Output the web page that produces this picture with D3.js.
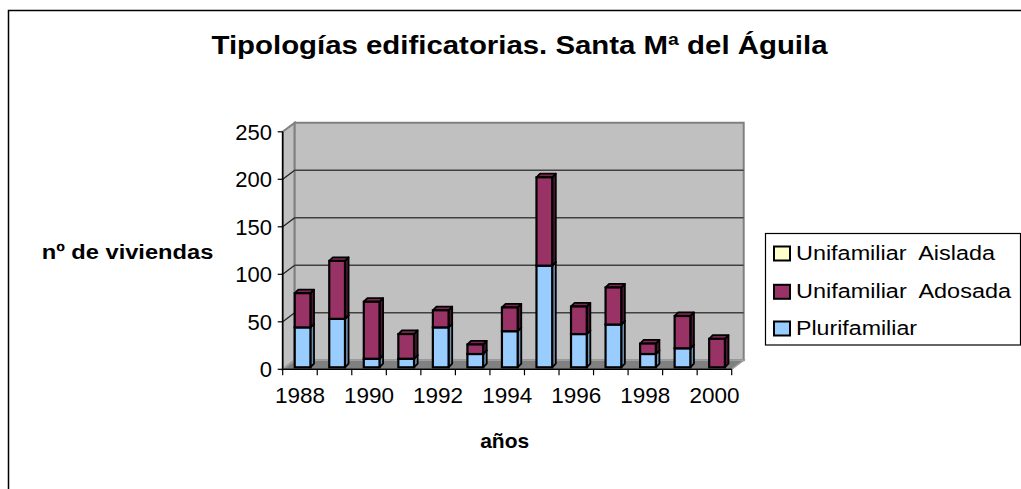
<!DOCTYPE html>
<html>
<head>
<meta charset="utf-8">
<script src="https://cdn.jsdelivr.net/npm/d3@7"></script>
<style>
  body { margin: 0; background: #fff; }
  text { font-family: "Liberation Sans", Arial, sans-serif; fill: #000; }
</style>
</head>
<body>
<div id="chart"></div>
<script>
var years = [1988, 1989, 1990, 1991, 1992, 1993, 1994, 1995, 1996, 1997, 1998, 1999, 2000];
var plurifamiliar = [42, 51, 9, 9, 42, 14, 38, 107, 35, 45, 14, 20, 0];
var unifamiliarAdosada = [36, 61, 60, 26, 18, 10, 25, 93, 29, 39, 11, 34, 30];
var unifamiliarAislada = [0, 0, 0, 0, 0, 0, 0, 0, 0, 0, 0, 0, 0];
var yTicks = [0, 50, 100, 150, 200, 250];
var xTickLabels = [1988, 1990, 1992, 1994, 1996, 1998, 2000];

var series = [
    { name: "Plurifamiliar", values: plurifamiliar, front: "#99CCFF", side: "#6F8FB0", top: "#7FA8D0" },
    { name: "Unifamiliar  Adosada", values: unifamiliarAdosada, front: "#993366", side: "#4A1830", top: "#7A2850" },
    { name: "Unifamiliar  Aislada", values: unifamiliarAislada, front: "#FFFFCC", side: "#B0B08C", top: "#D8D8AC" }
];
// legend shows series in reverse order, like the original
var legendItems = [
    { s: series[2], len: 199 },
    { s: series[1], len: 215 },
    { s: series[0], len: 121 }
];

var width = 1021, height = 489;
var svg = d3.select("#chart").append("svg")
    .attr("width", width)
    .attr("height", height);

svg.append("rect").attr("width", width).attr("height", height).attr("fill", "#fff");

// chart area border (runs off the right and bottom)
svg.append("rect")
    .attr("x", 8.5).attr("y", 10.5)
    .attr("width", 1100).attr("height", 600)
    .attr("fill", "none").attr("stroke", "#000").attr("stroke-width", 1.5);

var x0 = 282.7, x1 = 731.7;
var wall = { dx: 12, dy: -9 };
var barFront = { dx: 2.6, dy: -2 };
var barDepth = { dx: 3.6, dy: -3.6 };

var x = d3.scaleBand().domain(years).range([x0, x1]).padding(0);
var y = d3.scaleLinear().domain([0, 250]).range([369.3, 131.8]);
var barW = x.bandwidth() * 0.455;

var line = d3.line();

var walls = svg.append("g").attr("class", "walls");
// left side wall
walls.append("path")
    .attr("d", line([[x0, y(0)], [x0, y(250)], [x0 + wall.dx, y(250) + wall.dy], [x0 + wall.dx, y(0) + wall.dy]]) + "Z")
    .attr("fill", "#C0C0C0").attr("stroke", "#808080").attr("stroke-width", 2);
// back wall
walls.append("path")
    .attr("d", line([[x0 + wall.dx, y(0) + wall.dy], [x0 + wall.dx, y(250) + wall.dy], [x1 + wall.dx, y(250) + wall.dy], [x1 + wall.dx, y(0) + wall.dy]]) + "Z")
    .attr("fill", "#C0C0C0").attr("stroke", "#808080").attr("stroke-width", 2);
// floor
walls.append("path")
    .attr("d", line([[x0, y(0)], [x1, y(0)], [x1 + wall.dx, y(0) + wall.dy], [x0 + wall.dx, y(0) + wall.dy]]) + "Z")
    .attr("fill", "#808080").attr("stroke", "#A0A0A0").attr("stroke-width", 1.5);

// gridlines on back wall and left wall
var grid = svg.append("g").attr("class", "grid");
grid.selectAll("line.back")
    .data(yTicks.filter(function(d) { return d > 0 && d < 250; }))
    .enter().append("line")
    .attr("class", "back")
    .attr("x1", x0 + wall.dx).attr("x2", x1 + wall.dx)
    .attr("y1", function(d) { return y(d) + wall.dy; })
    .attr("y2", function(d) { return y(d) + wall.dy; })
    .attr("stroke", "#404040").attr("stroke-width", 1.5);
grid.selectAll("line.side")
    .data(yTicks.filter(function(d) { return d > 0 && d < 250; }))
    .enter().append("line")
    .attr("class", "side")
    .attr("x1", x0).attr("x2", x0 + wall.dx)
    .attr("y1", function(d) { return y(d); })
    .attr("y2", function(d) { return y(d) + wall.dy; })
    .attr("stroke", "#202020").attr("stroke-width", 1.2);

// axes
var axes = svg.append("g").attr("class", "axes");
axes.append("line")
    .attr("x1", x0).attr("x2", x0).attr("y1", y(0)).attr("y2", y(250))
    .attr("stroke", "#000").attr("stroke-width", 1.5);
axes.selectAll("line.ytick")
    .data(yTicks).enter().append("line")
    .attr("class", "ytick")
    .attr("x1", x0 - 5).attr("x2", x0)
    .attr("y1", function(d) { return y(d); })
    .attr("y2", function(d) { return y(d); })
    .attr("stroke", "#000").attr("stroke-width", 1.2);
axes.append("line")
    .attr("x1", x0).attr("x2", x1).attr("y1", y(0)).attr("y2", y(0))
    .attr("stroke", "#000").attr("stroke-width", 1.5);
axes.selectAll("line.xtick")
    .data(years.concat(["end"])).enter().append("line")
    .attr("class", "xtick")
    .attr("x1", function(d) { return d === "end" ? x1 : x(d); })
    .attr("x2", function(d) { return d === "end" ? x1 : x(d); })
    .attr("y1", y(0)).attr("y2", y(0) + 6)
    .attr("stroke", "#000").attr("stroke-width", 1.2);

axes.selectAll("text.ylab")
    .data(yTicks).enter().append("text")
    .attr("class", "ylab")
    .attr("x", 272)
    .attr("y", function(d) { return y(d) + 8; })
    .attr("text-anchor", "end")
    .style("font-size", "22px")
    .text(function(d) { return d; });

axes.selectAll("text.xlab")
    .data(xTickLabels).enter().append("text")
    .attr("class", "xlab")
    .attr("x", function(d) { return x(d) + x.bandwidth() / 2; })
    .attr("y", 403.3)
    .attr("text-anchor", "middle")
    .style("font-size", "22.5px")
    .text(function(d) { return d; });

// stacked 3d columns
var bars = svg.append("g").attr("class", "bars");

function drawBox(g, xl, v0, v1, s) {
    var l = xl + barFront.dx, r = l + barW;
    var b = y(v0) + barFront.dy, t = y(v1) + barFront.dy;
    var ddx = barDepth.dx, ddy = barDepth.dy;
    // side
    g.append("path")
        .attr("d", line([[r, b], [r, t], [r + ddx, t + ddy], [r + ddx, b + ddy]]) + "Z")
        .attr("fill", s.side).attr("stroke", "#000").attr("stroke-width", 1.8).attr("stroke-linejoin", "round");
    // top
    g.append("path")
        .attr("d", line([[l, t], [r, t], [r + ddx, t + ddy], [l + ddx, t + ddy]]) + "Z")
        .attr("fill", s.top).attr("stroke", "#000").attr("stroke-width", 1.8).attr("stroke-linejoin", "round");
    // front
    g.append("rect")
        .attr("x", l).attr("y", t)
        .attr("width", barW).attr("height", b - t)
        .attr("fill", s.front).attr("stroke", "#000").attr("stroke-width", 2.2);
}

years.forEach(function(yr, i) {
    var g = bars.append("g");
    var base = 0;
    var xl = x(yr) + (x.bandwidth() - barW) / 2;
    series.forEach(function(s) {
        var v = s.values[i];
        if (v > 0) {
            drawBox(g, xl, base, base + v, s);
            base += v;
        }
    });
});

// titles
svg.append("text")
    .attr("x", 519.5).attr("y", 54.3)
    .attr("text-anchor", "middle")
    .attr("textLength", 616).attr("lengthAdjust", "spacingAndGlyphs")
    .style("font-size", "25px").style("font-weight", "bold")
    .text("Tipologías edificatorias. Santa Mª del Águila");

svg.append("text")
    .attr("x", 41.7).attr("y", 259.3)
    .attr("textLength", 171.6).attr("lengthAdjust", "spacingAndGlyphs")
    .style("font-size", "20px").style("font-weight", "bold")
    .text("nº de viviendas");

svg.append("text")
    .attr("x", 504.7).attr("y", 448.3)
    .attr("text-anchor", "middle")
    .style("font-size", "21px").style("font-weight", "bold")
    .text("años");

// legend
var legend = svg.append("g").attr("class", "legend");
legend.append("rect")
    .attr("x", 765.5).attr("y", 233.5)
    .attr("width", 255).attr("height", 111.5)
    .attr("fill", "#fff").attr("stroke", "#000").attr("stroke-width", 1.2);

var rowY = [260, 298.3, 335];
var item = legend.selectAll("g.item")
    .data(legendItems).enter().append("g")
    .attr("class", "item")
    .attr("transform", function(d, i) { return "translate(0," + rowY[i] + ")"; });
item.append("rect")
    .attr("x", 774).attr("y", -13.5)
    .attr("width", 16).attr("height", 14)
    .attr("fill", function(d) { return d.s.front; })
    .attr("stroke", "#000").attr("stroke-width", 2);
item.append("text")
    .attr("x", 796).attr("y", 0)
    .attr("textLength", function(d) { return d.len; })
    .attr("lengthAdjust", "spacingAndGlyphs")
    .style("font-size", "20px")
    .style("white-space", "pre")
    .text(function(d) { return d.s.name; });
</script>
</body>
</html>
